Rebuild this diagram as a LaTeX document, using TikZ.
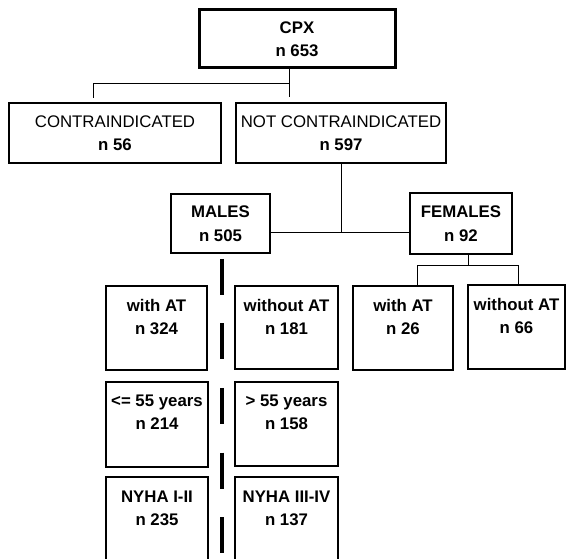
\documentclass[tikz,border=0pt]{standalone}
\usepackage{fontspec}
\setmainfont{Liberation Sans}
\begin{document}
\begin{tikzpicture}[x=1pt,y=-1pt,
  box/.style={draw, line width=1.8pt, inner sep=0pt, outer sep=0pt, align=center,
    font=\fontsize{16.8}{23.5}\selectfont\bfseries},
  txt/.style={anchor=north, inner sep=0pt, outer sep=0pt, align=center,
    font=\fontsize{16.8}{23}\selectfont\bfseries},
  link/.style={line width=0.9pt},
  dashln/.style={line width=4pt, dash pattern=on 36pt off 28.5pt}
]
\useasboundingbox (0,0) rectangle (566,559);
\clip (0,0) rectangle (566,559);

% centred boxes
\node[box, line width=3pt, minimum width=196pt, minimum height=58pt] (cpx) at (297,39) {CPX\\n 653};
\node[box, minimum width=212pt, minimum height=60pt] (contra) at (115,133) {{\mdseries CONTRAINDICATED}\\n 56};
\node[box, minimum width=210pt, minimum height=60pt] (notc) at (341,133) {{\mdseries NOT CONTRAINDICATED}\\n 597};
\node[box, minimum width=99pt, minimum height=59pt] (males) at (220.5,223.5) {MALES\\n 505};
\node[box, minimum width=102pt, minimum height=61pt] (females) at (461,223.5) {FEMALES\\n 92};

% boxes with text at the top
\node[box, minimum width=101pt, minimum height=84pt] (mwith) at (156.5,328) {};
\node[box, minimum width=103pt, minimum height=83pt] (mwithout) at (286.5,327.5) {};
\node[box, minimum width=100pt, minimum height=84pt] (fwith) at (403,328) {};
\node[box, minimum width=97pt, minimum height=84pt] (fwithout) at (516.5,327) {};
\node[box, minimum width=102pt, minimum height=85pt] (age1) at (157,424.5) {};
\node[box, minimum width=103pt, minimum height=84pt] (age2) at (286.5,424) {};
\node[box, minimum width=102pt, minimum height=93pt] (nyha1) at (157,523.5) {};
\node[box, minimum width=103pt, minimum height=93pt] (nyha2) at (286.5,523.5) {};

\node[txt] (mwitht) at ([yshift=-13pt]mwith.north) {with AT\\n 324};
\node[txt] (mwithoutt) at ([yshift=-13pt]mwithout.north) {without AT\\n 181};
\node[txt] (fwitht) at ([yshift=-13pt]fwith.north) {with AT\\n 26};
\node[txt] (fwithoutt) at ([yshift=-13pt]fwithout.north) {without AT\\n 66};
\node[txt] (age1t) at ([yshift=-12.5pt]age1.north) {<= 55 years\\n 214};
\node[txt] (age2t) at ([yshift=-12.5pt]age2.north) {> 55 years\\n 158};
\node[txt] (nyha1t) at ([yshift=-13.5pt]nyha1.north) {NYHA I-II\\n 235};
\node[txt] (nyha2t) at ([yshift=-13.5pt]nyha2.north) {NYHA III-IV\\n 137};

% connectors
\coordinate (j1) at (289,83);
\coordinate (cb) at (93,83);
\draw[link, shorten >=6pt] (cpx.south -| j1) -- (notc.north -| j1);
\draw[link, shorten >=5pt] (j1) -- (cb) -- (cb |- contra.north);

\coordinate (j2) at (341,232);
\draw[link] (notc.south) -- (j2);
\draw[link] (males.east |- j2) -- (females.west |- j2);

\coordinate (j3) at (468,265);
\coordinate (f1) at (417,265);
\coordinate (f2) at (518,265);
\draw[link] (females.south -| j3) -- (j3);
\draw[link] (f1 |- fwith.north) -- (f1) -- (f2) -- (f2 |- fwithout.north);

\coordinate (dtop) at (222,259);
\coordinate (dbot) at (222,570);
\draw[dashln] (dtop) -- (dbot);
\end{tikzpicture}
\end{document}
